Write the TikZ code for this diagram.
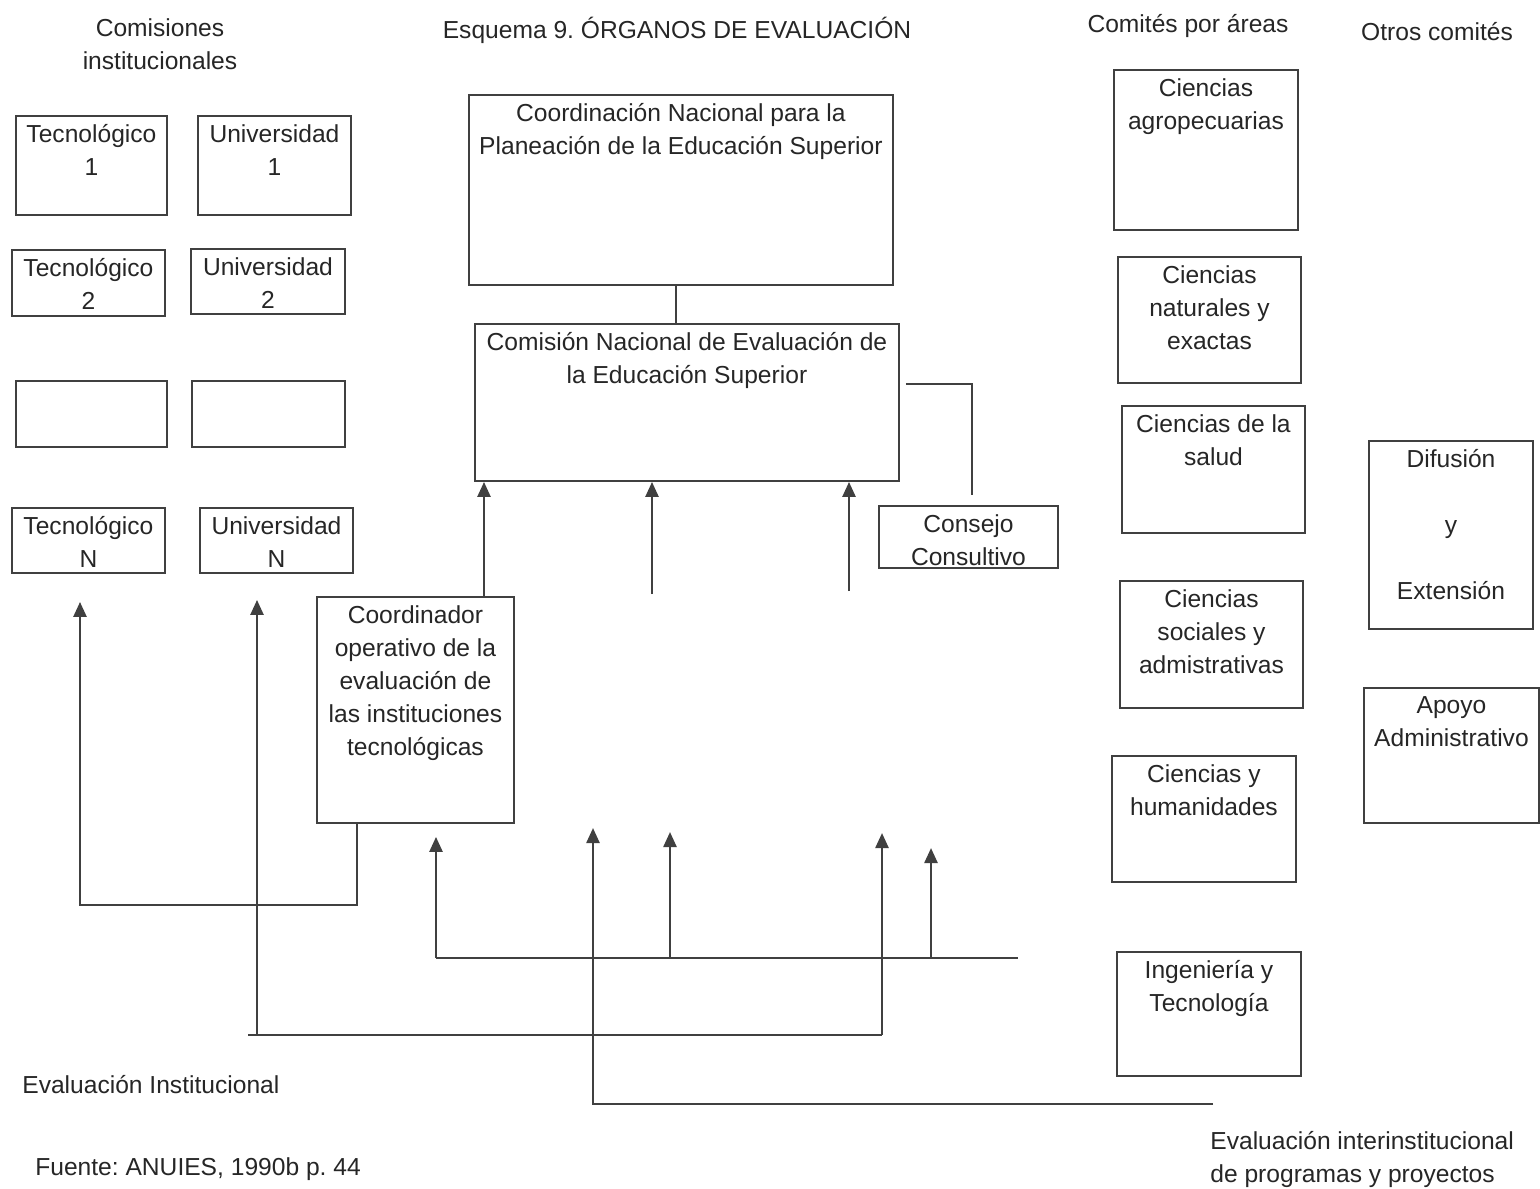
\documentclass[tikz,border=0pt]{standalone}
\usepackage{fontspec}
\setmainfont{Liberation Sans}
\usetikzlibrary{arrows.meta}
\frenchspacing

\tikzset{
  texto/.style={font=\fontsize{14}{18.8}\selectfont, text=black!85, align=center, inner sep=0pt, execute at begin node=\strut},
  caja/.style={draw=black!75, line width=1.1pt, anchor=north west, inner sep=0pt},
  rotulo/.style={texto, anchor=north, inner sep=5.2pt},
  linea/.style={draw=black!75, line width=1.4pt},
  flecha/.style={linea, -{Triangle[width=0.26cm, length=0.3cm]}}
}

\begin{document}
\begin{tikzpicture}[x=0.02cm, y=-0.02cm]
  \useasboundingbox (0,0) rectangle (1540,1188);

  % Titles
  \node[texto, anchor=north] (comisiones) at (160,18) {Comisiones\\institucionales};
  \node[texto, anchor=north] (titulo) at (677,15) {Esquema 9. ÓRGANOS DE EVALUACIÓN};
  \node[texto, anchor=north] (comites) at (1188,9) {Comités por áreas};
  \node[texto, anchor=north] (otros) at (1437,17) {Otros comités};

  % Comisiones institucionales
  \node[caja, minimum width=3.02cm, minimum height=1.98cm, label={[rotulo]north:{Tecnológico\\1}}] (tec1) at (15,115) {};
  \node[caja, minimum width=3.06cm, minimum height=1.98cm, label={[rotulo]north:{Universidad\\1}}] (uni1) at (197,115) {};
  \node[caja, minimum width=3.06cm, minimum height=1.32cm, label={[rotulo]north:{Tecnológico\\2}}] (tec2) at (11,249) {};
  \node[caja, minimum width=3.08cm, minimum height=1.30cm, label={[rotulo]north:{Universidad\\2}}] (uni2) at (190,248) {};
  \node[caja, minimum width=3.02cm, minimum height=1.32cm] (tec3) at (15,380) {};
  \node[caja, minimum width=3.06cm, minimum height=1.32cm] (uni3) at (191,380) {};
  \node[caja, minimum width=3.06cm, minimum height=1.30cm, label={[rotulo]north:{Tecnológico\\N}}] (tecN) at (11,507) {};
  \node[caja, minimum width=3.06cm, minimum height=1.30cm, label={[rotulo]north:{Universidad\\N}}] (uniN) at (199,507) {};

  % Organos centrales
  \node[caja, minimum width=8.48cm, minimum height=3.80cm, label={[rotulo]north:{Coordinación Nacional para la\\Planeación de la Educación Superior}}] (conpes) at (468,94) {};
  \node[caja, minimum width=8.48cm, minimum height=3.14cm, label={[rotulo]north:{Comisión Nacional de Evaluación de\\la Educación Superior}}] (conaeva) at (474,323) {};
  \node[caja, minimum width=3.58cm, minimum height=1.24cm, label={[rotulo]north:{Consejo\\Consultivo}}] (consejo) at (878,505) {};
  \node[caja, minimum width=3.94cm, minimum height=4.52cm, label={[rotulo]north:{Coordinador\\operativo de la\\evaluación de\\las instituciones\\tecnológicas}}] (coord) at (316,596) {};

  % Comites por areas
  \node[caja, minimum width=3.68cm, minimum height=3.20cm, label={[rotulo]north:{Ciencias\\agropecuarias}}] (agro) at (1113,69) {};
  \node[caja, minimum width=3.66cm, minimum height=2.52cm, label={[rotulo]north:{Ciencias\\naturales y\\exactas}}] (natu) at (1117,256) {};
  \node[caja, minimum width=3.66cm, minimum height=2.54cm, label={[rotulo]north:{Ciencias de la\\salud}}] (salud) at (1121,405) {};
  \node[caja, minimum width=3.66cm, minimum height=2.54cm, label={[rotulo]north:{Ciencias\\sociales y\\admistrativas}}] (soc) at (1119,580) {};
  \node[caja, minimum width=3.68cm, minimum height=2.52cm, label={[rotulo]north:{Ciencias y\\humanidades}}] (hum) at (1111,755) {};
  \node[caja, minimum width=3.68cm, minimum height=2.48cm, label={[rotulo]north:{Ingeniería y\\Tecnología}}] (ing) at (1116,951) {};

  % Otros comites
  \node[caja, minimum width=3.28cm, minimum height=3.76cm, label={[rotulo]north:{Difusión\\\mbox{}\\y\\\mbox{}\\Extensión}}] (difu) at (1368,440) {};
  \node[caja, minimum width=3.50cm, minimum height=2.70cm, label={[rotulo]north:{Apoyo\\Administrativo}}] (apoyo) at (1363,687) {};

  % Notes
  \node[texto, anchor=north west] (evinst) at (22,1070) {Evaluación Institucional};
  \node[texto, anchor=north west] (fuente) at (35,1152) {Fuente: ANUIES, 1990b p. 44};
  \node[texto, anchor=north west, align=left] (evinter) at (1210,1131) {Evaluación interinstitucional\\de programas y proyectos};

  % Points
  \coordinate (k1) at (972,384);
  \coordinate (f1) at (484,0);
  \coordinate (f2) at (652,594);
  \coordinate (f3) at (849,591);
  \coordinate (g1) at (357,905);
  \coordinate (g2) at (80,905);
  \coordinate (h1) at (248,1035);
  \coordinate (h2) at (257,1035);
  \coordinate (h3) at (882,1035);
  \coordinate (h4) at (882,833);
  \coordinate (m1) at (436,958);
  \coordinate (m2) at (670,958);
  \coordinate (m3) at (931,958);
  \coordinate (m4) at (1018,958);
  \coordinate (n1) at (1213,1104);
  \coordinate (n2) at (593,1104);
  \coordinate (n3) at (593,828);

  % Edges
  \draw[linea] (676,0 |- conpes.south) -- (676,0 |- conaeva.north);
  \draw[linea] ([xshift=0.12cm]conaeva.east |- k1) -- (k1) -- ([yshift=0.2cm]consejo.north -| k1);
  \draw[flecha] (f1 |- coord.north) -- (f1 |- conaeva.south);
  \draw[flecha] (f2) -- (f2 |- conaeva.south);
  \draw[flecha] (f3) -- (f3 |- conaeva.south);
  \draw[flecha, shorten >=0.56cm] (g1 |- coord.south) -- (g1) -- (g2) -- (g2 |- tecN.south);
  \draw[linea] (h1) -- (h3);
  \draw[flecha, shorten >=0.52cm] (h2) -- (h2 |- uniN.south);
  \draw[flecha] (h3) -- (h4);
  \draw[linea] (m1) -- (m4);
  \draw[flecha, shorten >=0.26cm] (m1) -- (m1 |- coord.south);
  \draw[flecha] (m2) -- ++(0,-126);
  \draw[flecha] (m3) -- ++(0,-110);
  \draw[flecha] (n1) -- (n2) -- (n3);
\end{tikzpicture}
\end{document}
